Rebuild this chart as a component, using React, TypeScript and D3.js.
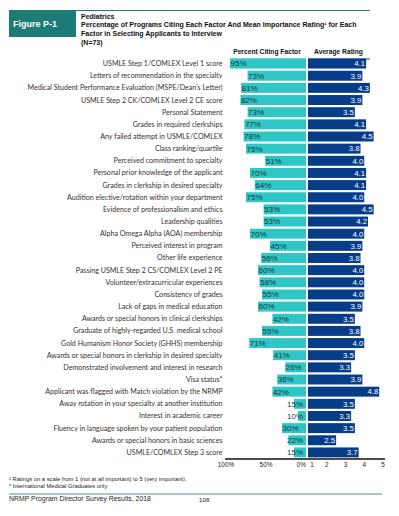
import React from "react";
import * as d3 from "d3";

const factors: string[] = [
  "USMLE Step 1/COMLEX Level 1 score",
  "Letters of recommendation in the specialty",
  "Medical Student Performance Evaluation (MSPE/Dean's Letter)",
  "USMLE Step 2 CK/COMLEX Level 2 CE score",
  "Personal Statement",
  "Grades in required clerkships",
  "Any failed attempt in USMLE/COMLEX",
  "Class ranking/quartile",
  "Perceived commitment to specialty",
  "Personal prior knowledge of the applicant",
  "Grades in clerkship in desired specialty",
  "Audition elective/rotation within your department",
  "Evidence of professionalism and ethics",
  "Leadership qualities",
  "Alpha Omega Alpha (AOA) membership",
  "Perceived interest in program",
  "Other life experience",
  "Passing USMLE Step 2 CS/COMLEX Level 2 PE",
  "Volunteer/extracurricular experiences",
  "Consistency of grades",
  "Lack of gaps in medical education",
  "Awards or special honors in clinical clerkships",
  "Graduate of highly-regarded U.S. medical school",
  "Gold Humanism Honor Society (GHHS) membership",
  "Awards or special honors in clerkship in desired specialty",
  "Demonstrated involvement and interest in research",
  "Visa status*",
  "Applicant was flagged with Match violation by the NRMP",
  "Away rotation in your specialty at another institution",
  "Interest in academic career",
  "Fluency in language spoken by your patient population",
  "Awards or special honors in basic sciences",
  "USMLE/COMLEX Step 3 score",
];

const percentCiting: number[] = [
  95, 73, 81, 82, 73, 77, 78, 75, 51, 70, 64, 75, 53, 53, 70, 45, 56, 60, 58,
  55, 60, 42, 55, 71, 41, 26, 36, 42, 15, 10, 30, 22, 15,
];

const averageRating: number[] = [
  4.1, 3.9, 4.3, 3.9, 3.5, 4.1, 4.5, 3.8, 4.0, 4.1, 4.1, 4.0, 4.5, 4.2, 4.0,
  3.9, 3.8, 4.0, 4.0, 4.0, 3.9, 3.5, 3.8, 4.0, 3.5, 3.3, 3.9, 4.8, 3.5, 3.3,
  3.5, 2.5, 3.7,
];

const pctTicks: number[] = [100, 50, 0];
const ratingTicks: number[] = [1, 2, 3, 4, 5];

const titleLines: string[] = [
  "Pediatrics",
  "Percentage of Programs Citing Each Factor And Mean Importance Rating\u00B9 for Each",
  "Factor in Selecting Applicants to Interview",
  "(N=73)",
];

const TEAL = "#2EC6C6";
const NAVY = "#063C88";
const DARK_TEAL = "#1B7C78";
const SANS = "'Liberation Sans', Arial, sans-serif";
const LABEL_FONT = "Lato, 'Liberation Sans', sans-serif";

export default function App() {
  const W = 399;
  const H = 516;

  const y = d3
    .scaleBand<string>()
    .domain(factors)
    .range([57.5, 458.5])
    .paddingInner(0.18)
    .paddingOuter(0.09);

  const xPct = d3.scaleLinear().domain([0, 100]).range([306, 226]);
  const xRat = d3.scaleLinear().domain([1, 5]).range([308, 383]);

  const bh = y.bandwidth();

  return (
    <svg
      width={W}
      height={H}
      style={{ position: "absolute", left: 0, top: 0, background: "#fff" }}
    >
      {/* Header */}
      <rect x={9} y={10} width={67} height={27} fill={DARK_TEAL} />
      <text
        x={13}
        y={26.5}
        fill="#fff"
        fontFamily={SANS}
        fontWeight="bold"
        fontSize={9}
      >
        Figure P-1
      </text>
      <line x1={76} x2={370} y1={10.5} y2={10.5} stroke={DARK_TEAL} strokeWidth={1} />
      {titleLines.map((t, i) => (
        <text
          key={i}
          x={81}
          y={18.5 + i * 8.9}
          fill="#111"
          fontFamily={SANS}
          fontWeight="bold"
          fontSize={7}
        >
          {t}
        </text>
      ))}

      {/* Column headers */}
      <text
        x={267}
        y={53.5}
        textAnchor="middle"
        fontFamily={SANS}
        fontWeight="bold"
        fontSize={6.7}
        fill="#111"
      >
        Percent Citing Factor
      </text>
      <text
        x={338.5}
        y={53.5}
        textAnchor="middle"
        fontFamily={SANS}
        fontWeight="bold"
        fontSize={6.7}
        fill="#111"
      >
        Average Rating
      </text>
      <line x1={230} x2={306} y1={59} y2={59} stroke={TEAL} strokeWidth={1} />
      <line x1={308} x2={370} y1={59} y2={59} stroke={NAVY} strokeWidth={1} />

      {/* Rows */}
      {factors.map((f, i) => {
        const yy = y(f) as number;
        const cy = yy + bh / 2;
        const p = percentCiting[i];
        const r = averageRating[i];
        const left = xPct(p);
        const labelX = Math.min(left + 0.5, xPct(0) - 19);
        return (
          <g key={f}>
            <text
              x={222.5}
              y={cy}
              dy="0.35em"
              textAnchor="end"
              fontFamily={LABEL_FONT}
              fontSize={7.1}
              fill="#3a2f2f"
            >
              {f}
            </text>
            <rect x={left} y={yy} width={xPct(0) - left} height={bh} fill={TEAL} />
            <text
              x={labelX}
              y={cy}
              dy="0.36em"
              fontFamily={SANS}
              fontSize={8}
              fill="#173838"
            >
              {p}%
            </text>
            <rect
              x={xRat(1)}
              y={yy}
              width={xRat(r) - xRat(1)}
              height={bh}
              fill={NAVY}
            />
            <text
              x={xRat(r) - 1}
              y={cy}
              dy="0.36em"
              textAnchor="end"
              fontFamily={SANS}
              fontSize={7.8}
              fill="#fff"
            >
              {r.toFixed(1)}
            </text>
          </g>
        );
      })}

      {/* Axis */}
      <line x1={225} x2={385} y1={459} y2={459} stroke="#111" strokeWidth={1.4} />
      {pctTicks.map((t) => (
        <text
          key={"p" + t}
          x={t === 0 ? xPct(0) : xPct(t)}
          y={466.5}
          textAnchor={t === 0 ? "end" : "middle"}
          fontFamily={SANS}
          fontSize={6.4}
          fill="#222"
        >
          {t}%
        </text>
      ))}
      {ratingTicks.map((t) => (
        <text
          key={"r" + t}
          x={t === 1 ? xRat(1) + 4 : xRat(t)}
          y={466.5}
          textAnchor="middle"
          fontFamily={SANS}
          fontSize={6.4}
          fill="#222"
        >
          {t}
        </text>
      ))}

      {/* Footnotes */}
      <text x={9} y={481} fontFamily={SANS} fontSize={5.8} fill="#222">
        {"\u00B9 Ratings on a scale from 1 (not at all important) to 5 (very important)."}
      </text>
      <text x={9} y={487.5} fontFamily={SANS} fontSize={5.8} fill="#222">
        * International Medical Graduates only
      </text>
      <line x1={9} x2={382} y1={494} y2={494} stroke={DARK_TEAL} strokeWidth={0.8} />
      <text x={9} y={501} fontFamily={SANS} fontSize={6.9} fill="#222">
        NRMP Program Director Survey Results, 2018
      </text>
      <text x={199} y={501.5} fontFamily={SANS} fontSize={6.2} fill="#222">
        108
      </text>
    </svg>
  );
}
